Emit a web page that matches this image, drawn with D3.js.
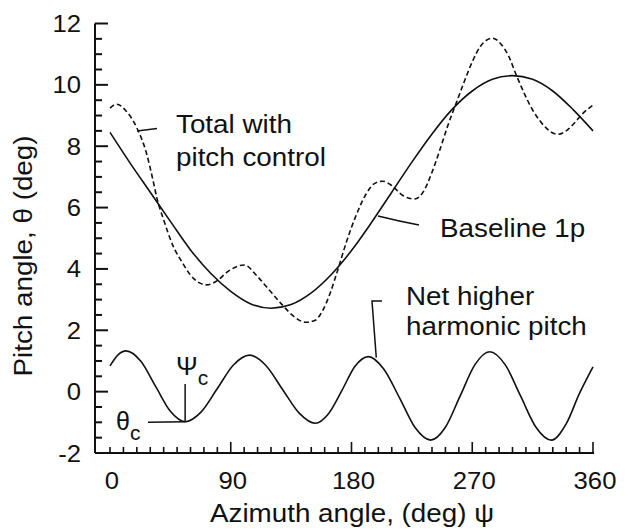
<!DOCTYPE html>
<html>
<head>
<meta charset="utf-8">
<script src="https://cdn.jsdelivr.net/npm/d3@7"></script>
<style>
  html, body { margin: 0; padding: 0; background: #fff; }
  svg { display: block; }
  text { font-family: "Liberation Sans", Arial, Helvetica, sans-serif; fill: #111; }
</style>
</head>
<body>
<svg id="chart" width="626" height="530"></svg>
<script>
// ---------- data ----------
const psiBaseline = [0,15,30,45,60,75,90,105,120,135,150,165,180,195,210,225,240,255,270,285,300,315,330,345,360];
const thetaBaseline = [8.45,7.45,6.5,5.55,4.62,3.86,3.27,2.86,2.72,2.84,3.22,3.82,4.6,5.52,6.5,7.48,8.4,9.2,9.8,10.18,10.3,10.18,9.8,9.2,8.5];

const psiNet = [0,6,12,23,34,45,56,68,80,92,104,116,128.5,141,153,163,173,182.5,192.5,204,216,227.5,239,250,261,272,283,294.5,306,317.5,329,340,350,360];
const thetaNet = [0.84,1.2,1.33,0.99,0.17,-0.64,-0.98,-0.66,0.1,0.87,1.19,0.86,0.08,-0.7,-1.03,-0.71,0.05,0.82,1.14,0.74,-0.22,-1.18,-1.58,-1.16,-0.14,0.88,1.3,0.88,-0.14,-1.16,-1.58,-1.05,-0.05,0.81];

const psiTotal = [0,5,12,20,27,32,35,40,47,54,60,66,72,80,88,100,110,117,129,137,146,153,158,164,170,176,183,191,197,203,210,218,227,234,240,246,252,258,264,270,276,285,292,297,303,309,315,320,325,330,334,340,346,352,360];
const thetaTotal = [9.24,9.37,9.15,8.6,7.8,6.9,6.3,5.6,4.75,4.2,3.8,3.56,3.48,3.62,3.92,4.13,3.75,3.4,2.8,2.45,2.26,2.33,2.6,3.2,4.0,4.85,5.7,6.45,6.78,6.86,6.72,6.4,6.28,6.55,7.15,7.9,8.7,9.4,10.1,10.75,11.25,11.52,11.3,10.95,10.3,9.7,9.18,8.85,8.6,8.43,8.39,8.5,8.75,9.05,9.34];

const xTickValues = [0,90,180,270,360];
const yTickValues = [-2,0,2,4,6,8,10,12];

const xTitle = "Azimuth angle, (deg) \u03C8";
const yTitle = "Pitch angle, \u03B8 (deg)";

// ---------- layout ----------
const svg = d3.select("#chart");
const x = d3.scaleLinear().domain([0, 360]).range([110, 593]);
const y = d3.scaleLinear().domain([-2, 12]).range([453, 23.5]);
const axisX0 = 95;      // left end of x axis / position of y axis
const axisY0 = 453;     // bottom axis position

function txt(g, px, py, str, size, anchor, extra) {
  return g.append("text")
    .attr("transform", `translate(${px},${py})` + (extra || "") + " scale(1.07,1)")
    .attr("text-anchor", anchor || "start")
    .style("font-size", size + "px")
    .text(str);
}

const gAxes = svg.append("g").attr("stroke", "#111").attr("fill", "none");

// y axis line
gAxes.append("line").attr("x1", axisX0).attr("x2", axisX0)
  .attr("y1", y(-2)).attr("y2", y(12)).attr("stroke-width", 2);
// x axis line
gAxes.append("line").attr("x1", axisX0).attr("x2", x(360) + 1)
  .attr("y1", axisY0).attr("y2", axisY0).attr("stroke-width", 2);

// y ticks (inward), major every 2, minor every 0.5
d3.range(-2, 12.001, 0.5).forEach(v => {
  const major = Math.abs(v % 2) < 1e-6;
  gAxes.append("line")
    .attr("x1", axisX0).attr("x2", axisX0 + (major ? 13 : 7))
    .attr("y1", y(v)).attr("y2", y(v))
    .attr("stroke-width", 2);
});
// x ticks (inward), major every 90, minor every 10
d3.range(0, 360.001, 10).forEach(v => {
  const major = v % 90 === 0 && v !== 0;
  gAxes.append("line")
    .attr("x1", x(v)).attr("x2", x(v))
    .attr("y1", axisY0).attr("y2", axisY0 - (major ? 11 : 6))
    .attr("stroke-width", 1.6);
});

const gLab = svg.append("g");
yTickValues.forEach(v => txt(gLab, 81, y(v) + 8.5, String(v), 24, "end"));
xTickValues.forEach(v => txt(gLab, x(v) + 2, 489, String(v), 24, "middle"));

// axis titles
txt(gLab, 352, 522, xTitle, 26, "middle");
txt(gLab, 32, 256, yTitle, 26, "middle", " rotate(-90)");

// ---------- curves ----------
const line = d3.line().x(d => x(d[0])).y(d => y(d[1])).curve(d3.curveMonotoneX);
const gCurves = svg.append("g").attr("fill", "none").attr("stroke", "#111");

gCurves.append("path")
  .datum(psiBaseline.map((p, i) => [p, thetaBaseline[i]]))
  .attr("d", line).attr("stroke-width", 1.6);

gCurves.append("path")
  .datum(psiNet.map((p, i) => [p, thetaNet[i]]))
  .attr("d", line).attr("stroke-width", 1.6);

gCurves.append("path")
  .datum(psiTotal.map((p, i) => [p, thetaTotal[i]]))
  .attr("d", line).attr("stroke-width", 1.6)
  .attr("stroke-dasharray", "5,3");

// ---------- annotations ----------
const gAnn = svg.append("g").attr("fill", "none").attr("stroke", "#111").attr("stroke-width", 1.5);

// Total with pitch control leader
gAnn.append("path").attr("d", "M137,131 L157,128.5");
txt(gLab, 176, 133, "Total with", 26, "start");
txt(gLab, 176, 166, "pitch control", 26, "start");

// Baseline 1p leader
gAnn.append("path").attr("d", "M378,216 Q398,221 419,225");
txt(gLab, 440, 237, "Baseline 1p", 26, "start");

// Net higher harmonic pitch leader
gAnn.append("path").attr("d", `M${x(192.5)+8},${y(1.14)+1} L372,301 L382,301`);
txt(gLab, 406, 305, "Net higher", 26, "start");
txt(gLab, 406, 335, "harmonic pitch", 26, "start");

// Psi_c and theta_c markers at the first trough of the net curve
const troughX = x(56), troughY = y(-0.98);
gAnn.append("line").attr("x1", troughX).attr("x2", troughX).attr("y1", troughY).attr("y2", 384);
gAnn.append("line").attr("x1", 148).attr("x2", troughX).attr("y1", troughY + 0.5).attr("y2", troughY);

const psiC = gLab.append("text").attr("transform", "translate(176,375)").style("font-size", "26px");
psiC.append("tspan").text("\u03A8");
psiC.append("tspan").attr("dy", 10).style("font-size", "21px").text("c");

const thC = gLab.append("text").attr("transform", "translate(116,430)").style("font-size", "25px");
thC.append("tspan").text("\u03B8");
thC.append("tspan").attr("dy", 10).style("font-size", "21px").text("c");
</script>
</body>
</html>
